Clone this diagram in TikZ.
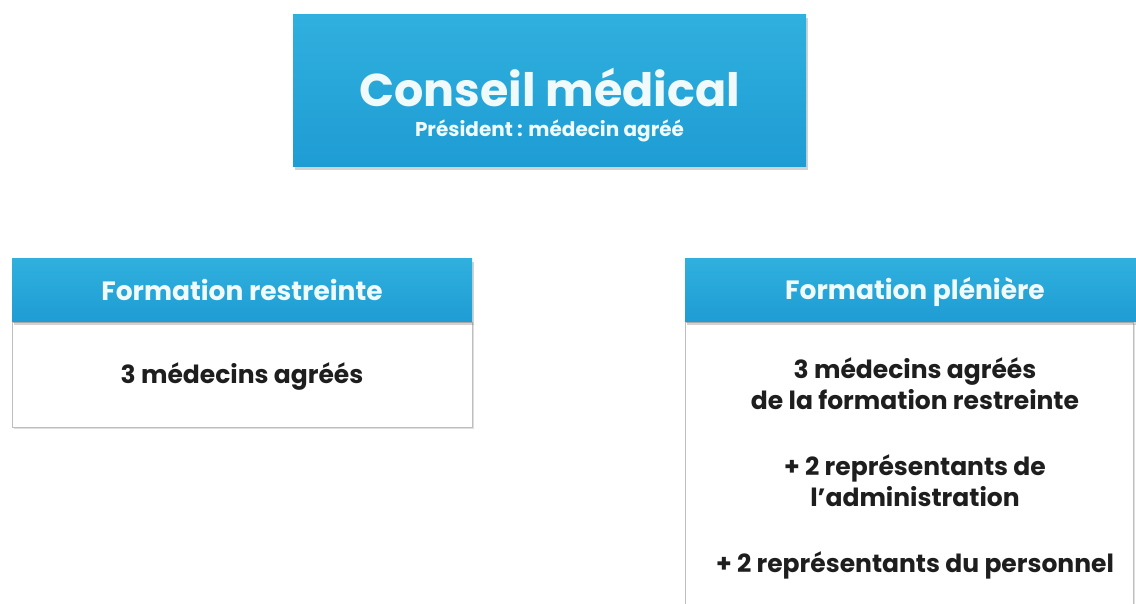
\documentclass[tikz,border=0pt]{standalone}
\usepackage{fontspec}
\setmainfont{Poppins}
\usetikzlibrary{shadows}
\definecolor{cbluetop}{RGB}{48,176,222}
\definecolor{cbluebot}{RGB}{30,156,212}
\definecolor{htext}{RGB}{240,250,250}
\definecolor{btext}{RGB}{30,30,30}
\definecolor{bline}{RGB}{190,190,190}
\tikzset{
  bluebox/.style={draw=none, top color=cbluetop, bottom color=cbluebot,
    drop shadow={opacity=0.35, shadow xshift=1.5pt, shadow yshift=-3pt}},
  bodybox/.style={draw=bline, line width=0.8pt, fill=white,
    drop shadow={opacity=0.25, shadow xshift=1.5pt, shadow yshift=-2pt}},
  htxt/.style={text=htext, anchor=base, inner sep=0pt, font=\fontsize{26.5}{30}\selectfont\bfseries},
  btxt/.style={text=btext, anchor=base, inner sep=0pt, font=\fontsize{25}{31}\selectfont\bfseries, align=center}
}
\begin{document}
\begin{tikzpicture}[x=1pt,y=-1pt]
\useasboundingbox (0,0) rectangle (1136,604);
\clip (0,0) rectangle (1136,604);
\fill[white] (0,0) rectangle (1136,604);
% top box
\path[bluebox] (293,15) rectangle (806,167);
\node[text=htext, anchor=base, inner sep=0pt, font=\fontsize{46}{50}\selectfont\bfseries] (title) at (549.5,107) {Conseil médical};
\node[text=htext, anchor=base, inner sep=0pt, font=\fontsize{20}{24}\selectfont\bfseries] (sub) at (549.5,137) {Président : médecin agréé};
% left
\path[bodybox] (12,322) rectangle (472,427);
\path[bluebox] (12,259) rectangle (472,322);
\node[htxt] (lh) at (242,301) {Formation restreinte};
\node[btxt] (lb) at (242,383) {3 médecins agréés};
% right
\path[bodybox] (685,322) rectangle (1133,640);
\path[bluebox] (685,259) rectangle (1150,322);
\node[htxt] (rh) at (915,300) {Formation plénière};
\node[btxt] (rb1a) at (915,378) {3 médecins agréés};
\node[btxt] (rb1b) at (915,409) {de la formation restreinte};
\node[btxt] (rb2a) at (915,475) {+ 2 représentants de};
\node[btxt] (rb2b) at (915,506) {l'administration};
\node[btxt] (rb3) at (915,572) {+ 2 représentants du personnel};
\end{tikzpicture}
\end{document}
